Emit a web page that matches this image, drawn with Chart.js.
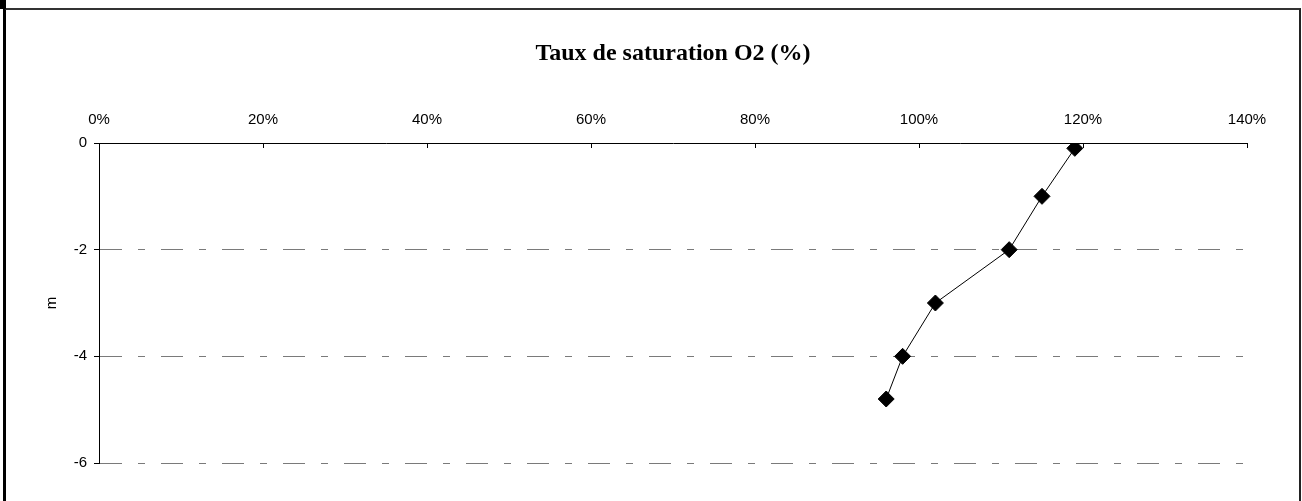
<!DOCTYPE html>
<html>
<head>
<meta charset="utf-8">
<script src="https://cdn.jsdelivr.net/npm/chart.js@4/dist/chart.umd.min.js"></script>
<style>
  html, body { margin: 0; padding: 0; background: #fff; }
  #wrap { position: relative; width: 1302px; height: 501px; overflow: hidden; }
  #frame {
    position: absolute; left: 3px; top: 8px; width: 1293px; height: 520px;
    border-left: 3px solid #000; border-top: 2px solid #333; border-right: 2px solid #222;
    pointer-events: none;
  }
  #corner { position: absolute; left: 0; top: 0; width: 6px; height: 9px; background: #000; }
</style>
</head>
<body>
<div id="wrap">
  <canvas id="chart" width="1302" height="501"></canvas>
  <div id="frame"></div>
  <div id="corner"></div>
</div>
<script>
// Data
const saturation = [119, 115, 111, 102, 98, 96];   // %
const depth = [-0.1, -1, -2, -3, -4, -4.8];          // m
const xTicks = [0, 20, 40, 60, 80, 100, 120, 140];
const yTicks = [0, -2, -4, -6];

const points = saturation.map((s, i) => ({ x: s, y: depth[i] }));

// small inward tick marks under the top axis
const innerTicks = {
    id: 'innerTicks',
    afterDraw(chart) {
        const xs = chart.scales.x;
        const c = chart.ctx;
        c.save();
        c.strokeStyle = '#000';
        c.lineWidth = 1;
        xs.ticks.forEach(t => {
            if (t.value === 0) return;
            const px = Math.round(xs.getPixelForValue(t.value)) + 0.5;
            c.beginPath();
            c.moveTo(px, xs.bottom);
            c.lineTo(px, xs.bottom + 5);
            c.stroke();
        });
        c.restore();
    }
};

const ctx = document.getElementById('chart').getContext('2d');
new Chart(ctx, {
    type: 'scatter',
    data: {
        datasets: [{
            data: points,
            showLine: true,
            borderColor: '#000',
            borderWidth: 1,
            pointStyle: 'rectRot',
            pointRadius: 8,
            pointBackgroundColor: '#000',
            pointBorderColor: '#000',
            pointBorderWidth: 1
        }]
    },
    options: {
        responsive: false,
        animation: false,
        layout: { padding: { left: 0, top: 0, right: 55, bottom: 38 } },
        plugins: {
            legend: { display: false },
            tooltip: { enabled: false },
            title: {
                display: true,
                fullSize: false,
                text: 'Taux de saturation O2 (%)',
                color: '#000',
                font: { family: '"Liberation Serif", "Times New Roman", serif', size: 24, weight: 'bold', lineHeight: '28px' },
                padding: { top: 40, bottom: 6 }
            }
        },
        scales: {
            x: {
                type: 'linear',
                position: 'top',
                min: 0,
                max: 140,
                afterFit: s => { s.height = 69; },
                afterBuildTicks: s => { s.ticks = xTicks.map(v => ({ value: v })); },
                ticks: {
                    color: '#000',
                    padding: 14,
                    maxRotation: 0,
                    font: { family: '"Liberation Sans", Arial, sans-serif', size: 15 },
                    callback: v => v + '%'
                },
                grid: { display: true, drawOnChartArea: false, drawTicks: false },
                border: { display: true, color: '#000', width: 1 }
            },
            y: {
                type: 'linear',
                min: -6,
                max: 0,
                afterFit: s => { s.width = 99; },
                afterBuildTicks: s => { s.ticks = yTicks.map(v => ({ value: v })); },
                ticks: {
                    color: '#000',
                    padding: 7,
                    font: { family: '"Liberation Sans", Arial, sans-serif', size: 15 }
                },
                title: {
                    display: true,
                    text: 'm',
                    color: '#000',
                    font: { family: '"Liberation Sans", Arial, sans-serif', size: 15, lineHeight: 1.2 },
                    padding: { top: 43, bottom: 0 }
                },
                grid: {
                    color: c => (c.tick && c.tick.value === 0) ? 'rgba(0,0,0,0)' : '#7a7a7a',
                    lineWidth: 1,
                    drawTicks: true,
                    tickLength: 5,
                    tickColor: '#000'
                },
                border: { display: true, color: '#000', width: 1, dash: [22, 16, 7, 16] }
            }
        }
    },
    plugins: [innerTicks]
});
</script>
</body>
</html>
